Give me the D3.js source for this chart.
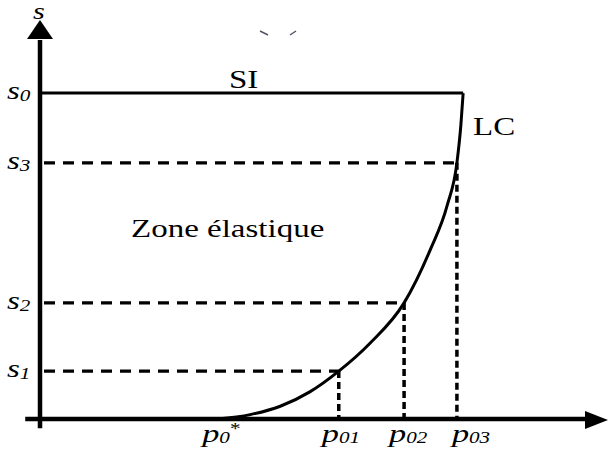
<!DOCTYPE html>
<html lang="fr">
  <head>
    <meta charset="UTF-8" />
    <title>Zone élastique</title>
    <style>
      body {
        margin: 0;
        background: #fff;
      }
      svg {
        display: block;
      }
      text {
        font-family: "Liberation Serif", "Times New Roman", "DejaVu Serif", serif;
        fill: #000;
      }
    </style>
  </head>
  <body>
    <script src="https://cdn.jsdelivr.net/npm/d3@7"></script>
    <script>
      // levels on the s axis (top to bottom of the picture)
      var sNames = ["0", "3", "2", "1"];
      var sValues = [81.7, 64.2, 29.1, 12.0];

      // pressures on the p axis
      var pNames = ["0", "01", "02", "03"];
      var pValues = [31.2, 52.6, 64.1, 73.4];

      // limit curve LC, from p0* up to the SI line
      var lcP = [31.2, 37.0, 42.3, 47.5, 52.6, 58.1, 64.1, 68.7, 71.7, 73.4, 74.1, 74.5];
      var lcS = [0, 1.1, 3.2, 6.8, 12.0, 19.0, 29.1, 42.4, 53.6, 64.2, 73.7, 81.7];

      var width = 608,
        height = 454;

      var x = d3.scaleLinear().domain([0, 100]).range([40, 608]);
      var y = d3.scaleLinear().domain([0, 100]).range([419, 20]);

      var svg = d3
        .select("body")
        .append("svg")
        .attr("width", width)
        .attr("height", height);

      // dashed guides (drawn first, under the curve)
      var guides = svg.append("g");
      [1, 2, 3].forEach(function(i) {
        guides
          .append("line")
          .attr("x1", x(0))
          .attr("x2", x(pValues[i]))
          .attr("y1", y(sValues[4 - i]))
          .attr("y2", y(sValues[4 - i]))
          .attr("stroke", "#000")
          .attr("stroke-width", 3.2)
          .attr("stroke-dasharray", "11,8")
          .attr("stroke-dashoffset", -4);
        guides
          .append("line")
          .attr("x1", x(pValues[i]))
          .attr("x2", x(pValues[i]))
          .attr("y1", y(sValues[4 - i]))
          .attr("y2", y(0))
          .attr("stroke", "#000")
          .attr("stroke-width", 3.5)
          .attr("stroke-dasharray", "7,4");
      });

      // SI line
      svg
        .append("line")
        .attr("x1", x(0))
        .attr("x2", x(lcP[lcP.length - 1]))
        .attr("y1", y(sValues[0]))
        .attr("y2", y(sValues[0]))
        .attr("stroke", "#000")
        .attr("stroke-width", 3.2);

      // LC curve
      var line = d3
        .line()
        .x(function(d, i) { return x(lcP[i]); })
        .y(function(d, i) { return y(lcS[i]); })
        .curve(d3.curveMonotoneX);

      svg
        .append("path")
        .attr("d", line(lcP))
        .attr("fill", "none")
        .attr("stroke", "#000")
        .attr("stroke-width", 3);

      // axes with arrows
      svg
        .append("line")
        .attr("x1", x(0))
        .attr("x2", x(0))
        .attr("y1", y(-2.3))
        .attr("y2", y(95))
        .attr("stroke", "#000")
        .attr("stroke-width", 4.5);
      svg
        .append("line")
        .attr("x1", x(-2.6))
        .attr("x2", x(96))
        .attr("y1", y(0))
        .attr("y2", y(0))
        .attr("stroke", "#000")
        .attr("stroke-width", 4.5);

      svg
        .append("path")
        .attr("d", d3.line()([[x(0), y(100)], [x(0) - 13, y(100) + 19], [x(0) + 13, y(100) + 19]]) + "Z")
        .attr("fill", "#000");
      svg
        .append("path")
        .attr("d", d3.line()([[x(100), y(0) + 1], [x(100) - 23, y(0) - 8], [x(100) - 23, y(0) + 10]]) + "Z")
        .attr("fill", "#000");

      // text is horizontally stretched in the picture
      function label(px, py, size) {
        return svg
          .append("text")
          .attr("font-family", '"Liberation Serif", "Times New Roman", "DejaVu Serif", serif')
          .attr("transform", "translate(" + px + "," + py + ") scale(1.32,1)")
          .attr("font-size", size);
      }

      // axis names
      label(x(0) - 7, y(100) - 1, 23).attr("font-style", "italic").text("s");

      // s tick labels
      sValues.forEach(function(v, i) {
        var t = label(7, y(v) + 6, 25).attr("font-style", "italic");
        t.append("tspan").text("s");
        t.append("tspan").attr("font-size", 16).attr("dy", 2).text(sNames[i]);
      });

      // p tick labels
      var pShift = [-15, -17, -15, -5];
      pValues.forEach(function(v, i) {
        var t = label(x(v) + pShift[i], y(0) + 23, 26).attr("font-style", "italic");
        t.append("tspan").text("p");
        t.append("tspan").attr("font-size", 16).attr("dy", 1).text(pNames[i]);
        if (i === 0) t.append("tspan").attr("font-size", 16).attr("dy", -9).attr("font-style", "normal").text("*");
      });

      // region labels
      label(229, 88, 25).text("SI");
      label(473, 135, 25).text("LC");
      label(131, 237, 25).text("Zone élastique");

      // small stray marks above the chart
      svg
        .append("path")
        .attr("d", "M260,31 L268,35 M290,35 L296,31")
        .attr("stroke", "#556")
        .attr("stroke-width", 1.5)
        .attr("fill", "none");
    </script>
  </body>
</html>
